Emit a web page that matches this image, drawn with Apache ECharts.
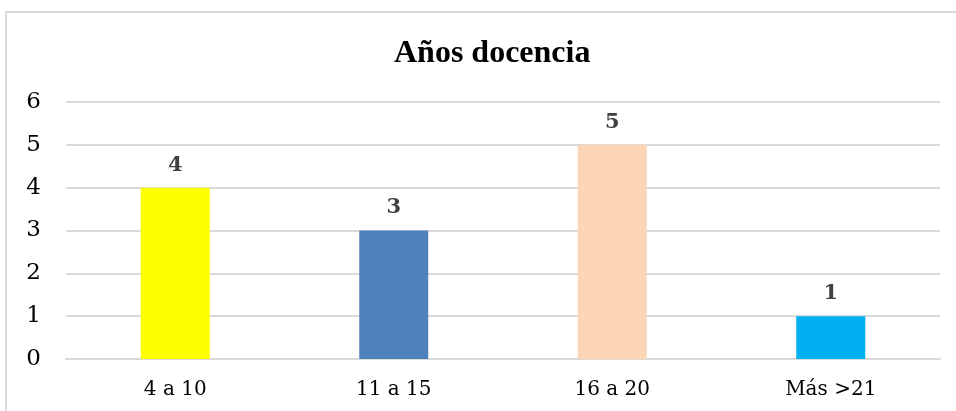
<!DOCTYPE html>
<html>
<head>
<meta charset="utf-8">
<script src="https://cdn.jsdelivr.net/npm/echarts@6/dist/echarts.min.js"></script>
<style>
  html, body { margin: 0; padding: 0; background: #fff; }
  #frame { position: absolute; left: 5px; top: 11px; width: 960px; height: 410px; border: 2px solid #d9d9d9; box-sizing: border-box; }
  #chart { position: absolute; left: 0; top: 0; width: 956px; height: 411px; }
</style>
</head>
<body>
<div id="frame"></div>
<div id="chart"></div>
<script>
// Teachers grouped by years of teaching experience
const categories = ['4 a 10', '11 a 15', '16 a 20', 'Más >21'];
const counts = [4, 3, 5, 1];
const barColors = ['#FFFF00', '#4F81BD', '#FBD5B5', '#00B0F0'];
const yTicks = [0, 1, 2, 3, 4, 5, 6];

const titleFont = '"Liberation Serif", "Times New Roman", serif';
const bodyFont = '"DejaVu Serif", Cambria, serif';

const chart = echarts.init(document.getElementById('chart'), null, { renderer: 'canvas' });
chart.setOption({
  animation: false,
  title: {
    text: 'Años docencia',
    left: 389,
    top: 33,
    textStyle: { fontFamily: titleFont, fontWeight: 'bold', fontSize: 32, color: '#000' }
  },
  grid: { left: 66, right: 16, top: 102, bottom: 52, containLabel: false },
  xAxis: {
    type: 'category',
    data: categories,
    axisLine: { show: true, lineStyle: { color: '#d9d9d9', width: 2 } },
    axisTick: { show: false },
    axisLabel: { fontFamily: bodyFont, fontSize: 20, color: '#000', margin: 21 }
  },
  yAxis: {
    type: 'value',
    min: yTicks[0],
    max: yTicks[yTicks.length - 1],
    interval: 1,
    axisLine: { show: false },
    axisTick: { show: false },
    splitLine: { lineStyle: { color: '#d9d9d9', width: 2 } },
    axisLabel: { fontFamily: bodyFont, fontSize: 23, color: '#000', margin: 25 }
  },
  series: [{
    type: 'bar',
    data: counts.map((v, i) => ({ value: v, itemStyle: { color: barColors[i] } })),
    barWidth: 69,
    label: {
      show: true,
      position: 'top',
      distance: 12,
      fontFamily: bodyFont,
      fontWeight: 'bold',
      fontSize: 21,
      color: '#404040'
    }
  }]
});
</script>
</body>
</html>
